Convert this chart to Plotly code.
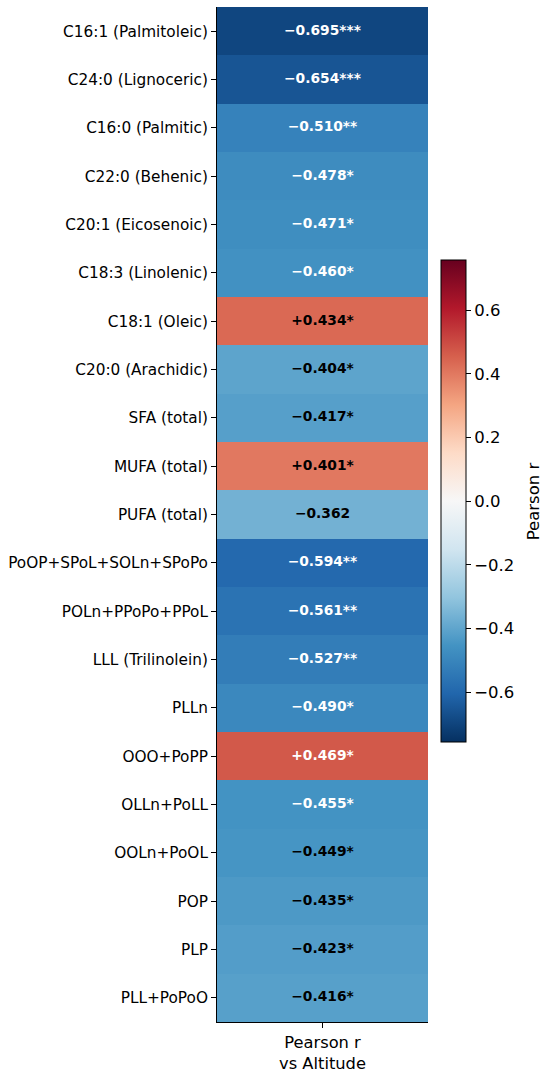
import plotly.graph_objects as go

# Correlation of each fatty acid / TAG with altitude (top to bottom)
compounds = [
    "C16:1 (Palmitoleic)", "C24:0 (Lignoceric)", "C16:0 (Palmitic)",
    "C22:0 (Behenic)", "C20:1 (Eicosenoic)", "C18:3 (Linolenic)",
    "C18:1 (Oleic)", "C20:0 (Arachidic)", "SFA (total)", "MUFA (total)",
    "PUFA (total)", "PoOP+SPoL+SOLn+SPoPo", "POLn+PPoPo+PPoL",
    "LLL (Trilinolein)", "PLLn", "OOO+PoPP", "OLLn+PoLL", "OOLn+PoOL",
    "POP", "PLP", "PLL+PoPoO",
]
pearson_r = [
    -0.695, -0.654, -0.510, -0.478, -0.471, -0.460, 0.434, -0.404, -0.417,
    0.401, -0.362, -0.594, -0.561, -0.527, -0.490, 0.469, -0.455, -0.449,
    -0.435, -0.423, -0.416,
]
stars = [
    "***", "***", "**", "*", "*", "*", "*", "*", "*",
    "*", "", "**", "**", "**", "*", "*", "*", "*",
    "*", "*", "*",
]
column = "Pearson r<br>vs Altitude"

# matplotlib RdBu_r
rdbu_r = [
    "#053061", "#2166ac", "#4393c3", "#92c5de", "#d1e5f0", "#f7f7f7",
    "#fddbc7", "#f4a582", "#d6604d", "#b2182b", "#67001f",
]
colorscale = [[i / 10, c] for i, c in enumerate(rdbu_r)]
vlim = 0.757

labels = [f"{r:+.3f}".replace("-", "\u2212") + s for r, s in zip(pearson_r, stars)]
text_colors = ["white" if abs(r) > 0.45 else "black" for r in pearson_r]

fig = go.Figure()
fig.add_trace(go.Heatmap(
    x=[column] * len(compounds),
    y=compounds,
    z=pearson_r,
    zmin=-vlim, zmax=vlim,
    colorscale=colorscale,
    hoverinfo="skip",
    colorbar=dict(
        thickness=25,
        lenmode="pixels", len=502,
        x=1.062, xanchor="left", xpad=0,
        y=0.513, yanchor="middle",
        outlinecolor="black", outlinewidth=1,
        ticks="outside", ticklen=5, tickcolor="black",
        tickvals=[-0.6, -0.4, -0.2, 0.0, 0.2, 0.4, 0.6],
        ticktext=["\u22120.6", "\u22120.4", "\u22120.2", "0.0", "0.2", "0.4", "0.6"],
        tickfont=dict(size=16.5, color="black"),
    ),
))

fig.add_trace(go.Scatter(
    x=[column] * len(compounds),
    y=compounds,
    mode="text",
    text=labels,
    textfont=dict(size=13.8, color=text_colors, family="DejaVu Sans", weight="bold"),
    hoverinfo="skip",
    showlegend=False,
))

# colorbar title placed by hand so it sits where matplotlib puts it
fig.add_annotation(
    text="Pearson r", textangle=-90,
    xref="paper", yref="paper", x=1.4976, y=0.513,
    xanchor="center", yanchor="middle",
    showarrow=False, font=dict(size=16.5, color="black"),
)

fig.update_layout(
    width=550, height=1078,
    margin=dict(l=217, r=122, t=7, b=56),
    plot_bgcolor="white", paper_bgcolor="white",
    font=dict(family="DejaVu Sans", size=15.3, color="black"),
    xaxis=dict(
        range=[-0.5, 0.5], automargin=False,
        showline=True, linecolor="black", linewidth=1, mirror=False,
        ticks="outside", ticklen=5, tickcolor="black",
        tickfont=dict(size=16.3), showgrid=False, zeroline=False,
    ),
    yaxis=dict(
        range=[len(compounds) - 0.5, -0.5], automargin=False,
        showline=True, linecolor="black", linewidth=1, mirror=False,
        ticks="outside", ticklen=5, tickcolor="black",
        tickfont=dict(size=15.3), showgrid=False, zeroline=False,
    ),
)

# drop the default 8px page margin so the figure fills the window
fig.write_html("out.html", config={"displayModeBar": False},
               post_script="document.body.style.margin='0';")
